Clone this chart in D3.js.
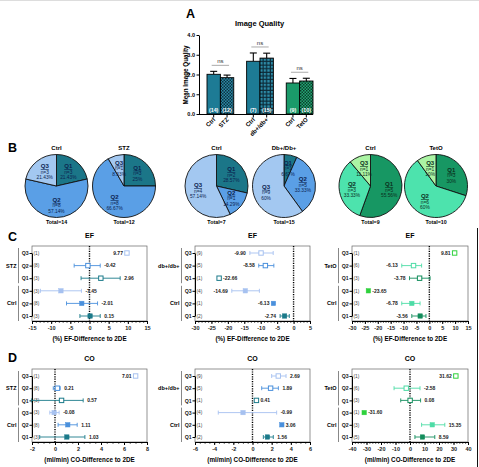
<!DOCTYPE html>
<html>
<head>
<meta charset="utf-8">
<script src="https://cdn.jsdelivr.net/npm/d3@7"></script>
<style>
body { margin: 0; background: #fff; }
svg { display: block; font-family: "Liberation Sans", Arial, sans-serif; }
</style>
</head>
<body>
<div id="chart"></div>
<script>
// ---- A: image quality bars
const barGroups = ["stz", "db", "teto"];
const barLabels = ["Ctrl", "STZ", "Ctrl", "db+/db+", "Ctrl", "TetO"];
const barMeans = [2.01, 1.84, 2.67, 2.83, 1.57, 1.67];
const barErr = [0.15, 0.13, 0.42, 0.25, 0.23, 0.14];
const barN = [14, 12, 7, 15, 9, 10];
const yTicksA = [0, 1, 2, 3, 4];

// ---- B: quartile pies (Q1, Q2, Q3 counts)
const pieTitles = ["Ctrl", "STZ", "Ctrl", "Db+/Db+", "Ctrl", "TetO"];
const pieCounts = [[3, 8, 3], [3, 8, 1], [2, 1, 4], [1, 5, 9], [5, 3, 1], [3, 6, 1]];
const quartiles = ["Q1", "Q2", "Q3"];

// ---- C / D: rows top to bottom = treatment Q3,Q2,Q1 then Ctrl Q3,Q2,Q1
const rowQ = ["Q3", "Q2", "Q1", "Q3", "Q2", "Q1"];

const efStzMean = [9.77, -0.42, 2.96, -7.45, -2.01, 0.15];
const efStzLo   = [NaN, -4.0, -2.2, -12.8, -6.0, -2.5];
const efStzHi   = [NaN, 2.8, 8.0, -2.1, 2.1, 2.8];

const efDbMean = [-9.90, -8.58, -22.66, -14.69, -6.13, -2.74];
const efDbLo   = [-13.3, -10.6, NaN, -18.8, NaN, -4.1];
const efDbHi   = [-6.2, -6.0, NaN, -10.4, NaN, -1.3];

const efTetMean = [9.81, -6.13, -3.78, -23.65, -6.78, -3.56];
const efTetLo   = [NaN, -10.7, -7.7, NaN, -10.7, -6.8];
const efTetHi   = [NaN, -3.0, 0.3, NaN, -3.6, -1.3];

const coStzMean = [7.01, 0.21, 0.57, -0.08, 1.11, 1.03];
const coStzLo   = [NaN, -0.15, -2.05, -0.45, 0.27, -1.33];
const coStzHi   = [NaN, 0.45, 2.45, 0.36, 1.93, 2.6];

const coDbMean = [2.69, 1.89, 0.41, -0.99, 3.06, 1.56];
const coDbLo   = [2.0, 0.96, NaN, -3.57, NaN, 1.13];
const coDbHi   = [3.5, 2.7, NaN, 2.52, NaN, 2.17];

const coTetMean = [31.62, -2.58, 0.08, -31.60, 15.35, 8.59];
const coTetLo   = [NaN, -11.0, -6.4, NaN, 8.0, 3.4];
const coTetHi   = [NaN, 6.9, 7.3, NaN, 24.0, 17.1];


const W = 479, H = 467;
const svg = d3.select("#chart").append("svg")
    .attr("width", W)
    .attr("height", H);

const blues  = ["#1b7688", "#5a9fe6", "#a3c8f1"];
const greens = ["#179763", "#4de3ad", "#abf4a4"];
const dotBlues  = ["#1b7a8a", "#4a90dc", "#a6c1f0"];
const dotGreens = ["#138d5c", "#4ddca6", "#2fd13c"];

// patterns for the treatment bars
const defs = svg.append("defs");
function checker(id, light, dark, s) {
    const p = defs.append("pattern").attr("id", id)
        .attr("width", s).attr("height", s).attr("patternUnits", "userSpaceOnUse");
    p.append("rect").attr("width", s).attr("height", s).attr("fill", light);
    p.append("rect").attr("width", s / 2).attr("height", s / 2).attr("fill", dark);
    p.append("rect").attr("x", s / 2).attr("y", s / 2).attr("width", s / 2).attr("height", s / 2).attr("fill", dark);
}
checker("chkBlue", "#2b8ba6", "#0c3142", 3);
checker("chkGreen", "#22a874", "#0c3d2b", 3);
const gp = defs.append("pattern").attr("id", "gridBlue")
    .attr("width", 3.6).attr("height", 3.6).attr("patternUnits", "userSpaceOnUse");
gp.append("rect").attr("width", 3.6).attr("height", 3.6).attr("fill", "#0d2a38");
gp.append("rect").attr("x", 0.9).attr("y", 0.9).attr("width", 2.4).attr("height", 2.4).attr("fill", "#2d8ca8");

const barFills = ["#1d7b95", "url(#chkBlue)", "#1d7b95", "url(#gridBlue)", "#1a9a6a", "url(#chkGreen)"];

// faint border on top, frame line at right
svg.append("line").attr("x1", 0).attr("x2", W).attr("y1", 0.5).attr("y2", 0.5).attr("stroke", "#ddd");
svg.append("line").attr("x1", 477.5).attr("x2", 477.5).attr("y1", 228).attr("y2", H).attr("stroke", "#111").attr("stroke-width", 1);

function letter(t, x, y) {
    svg.append("text").attr("x", x).attr("y", y).attr("font-size", 12.5).attr("font-weight", "bold").text(t);
}
letter("A", 186, 18);
letter("B", 8, 152);
letter("C", 8, 241);
letter("D", 8, 362);


// ================= A
(function barChart() {
    const g = svg.append("g");
    const y = d3.scaleLinear().domain([0, 4]).range([114, 35]);
    const x = d3.scaleBand().domain(barGroups).range([207, 313]).paddingInner(0.325);
    const xs = d3.scaleBand().domain([0, 1]).range([0, x.bandwidth()]);
    const bx = i => x(barGroups[Math.floor(i / 2)]) + xs(i % 2);
    const bw = xs.bandwidth();

    g.append("text").attr("x", 259.5).attr("y", 26).attr("text-anchor", "middle")
        .attr("font-size", 7.5).attr("font-weight", "bold").text("Image Quality");

    const yAx = g.append("g").attr("transform", "translate(199,0)")
        .call(d3.axisLeft(y).tickValues(yTicksA).tickSize(2.5).tickSizeOuter(0).tickPadding(1.5));
    yAx.selectAll("text").attr("font-size", 5.5).attr("font-weight", "bold");
    yAx.select(".domain").attr("stroke-width", 1);

    g.append("text").attr("transform", "translate(188,75) rotate(-90)").attr("text-anchor", "middle")
        .attr("font-size", 6.3).attr("font-weight", "bold").text("Mean Image Quality");

    // error bars (upper only)
    barMeans.forEach((m, i) => {
        const cx = bx(i) + bw / 2;
        g.append("line").attr("x1", cx).attr("x2", cx).attr("y1", y(m)).attr("y2", y(m + barErr[i]))
            .attr("stroke", "#000").attr("stroke-width", 1.1);
        g.append("line").attr("x1", cx - 3.5).attr("x2", cx + 3.5).attr("y1", y(m + barErr[i])).attr("y2", y(m + barErr[i]))
            .attr("stroke", "#000").attr("stroke-width", 1.1);
    });

    g.selectAll("rect.bar").data(barMeans).join("rect").attr("class", "bar")
        .attr("x", (d, i) => bx(i)).attr("width", bw)
        .attr("y", d => y(d)).attr("height", d => y(0) - y(d))
        .attr("fill", (d, i) => barFills[i]).attr("stroke", "#000").attr("stroke-width", 0.9);

    g.selectAll("text.n").data(barN).join("text").attr("class", "n")
        .attr("x", (d, i) => bx(i) + bw / 2).attr("y", 111.5).attr("text-anchor", "middle")
        .attr("font-size", 5.3).attr("font-weight", "bold").attr("fill", "#fff").text(d => `(${d})`);

    // x axis
    g.append("line").attr("x1", 199).attr("x2", 313).attr("y1", 114.5).attr("y2", 114.5).attr("stroke", "#000").attr("stroke-width", 1);
    barLabels.forEach((t, i) => {
        const cx = bx(i) + bw / 2;
        g.append("line").attr("x1", cx).attr("x2", cx).attr("y1", 114.5).attr("y2", 117.5).attr("stroke", "#000");
        g.append("text").attr("transform", `translate(${cx + 2},${120}) rotate(-45)`).attr("text-anchor", "end")
            .attr("font-size", 6).attr("font-weight", "bold").text(t);
    });

    // ns brackets
    barGroups.forEach((grp, k) => {
        const top = Math.max(barMeans[2 * k] + barErr[2 * k], barMeans[2 * k + 1] + barErr[2 * k + 1]);
        const ly = y(top) - 6;
        const x1 = bx(2 * k) + bw / 2 - 2, x2 = bx(2 * k + 1) + bw / 2 + 2;
        g.append("line").attr("x1", x1).attr("x2", x2).attr("y1", ly).attr("y2", ly).attr("stroke", "#aaa").attr("stroke-width", 1);
        g.append("text").attr("x", (x1 + x2) / 2).attr("y", ly - 2).attr("text-anchor", "middle")
            .attr("font-size", 6).attr("fill", "#333").text("ns");
    });
})();


// ================= B
const pieCx = [56.5, 124, 216.5, 284, 370.5, 436];
const R = 31.5, pieCy = 186;
const pie = d3.pie().sort(null).value(d => d);
const arc = d3.arc().innerRadius(0).outerRadius(R);
const labelArc = d3.arc().innerRadius(R * 0.6).outerRadius(R * 0.6);

function pct(c, tot) {
    return (c / tot * 100).toFixed(2).replace(/\.00$/, "") + "%";
}

pieCounts.forEach((counts, k) => {
    const tot = d3.sum(counts);
    const cols = k < 4 ? blues : greens;
    const txt = k < 4 ? "#0b2350" : "#0b2e1d";
    const g = svg.append("g").attr("transform", `translate(${pieCx[k]},${pieCy})`);
    const arcs = pie(counts);
    g.selectAll("path").data(arcs).join("path")
        .attr("d", arc).attr("fill", (d, i) => cols[i]).attr("stroke", "#111").attr("stroke-width", 0.9);
    arcs.forEach((a, i) => {
        const [lx, ly] = labelArc.centroid(a);
        g.append("text").attr("x", lx).attr("y", ly - 3).attr("text-anchor", "middle")
            .attr("font-size", 6).attr("font-weight", "bold").attr("text-decoration", "underline")
            .attr("fill", txt).text(quartiles[i]);
        g.append("text").attr("x", lx).attr("y", ly + 2.5).attr("text-anchor", "middle")
            .attr("font-size", 4.8).attr("fill", txt).text("n=" + counts[i]);
        g.append("text").attr("x", lx).attr("y", ly + 8).attr("text-anchor", "middle")
            .attr("font-size", 4.8).attr("fill", txt).text(pct(counts[i], tot));
    });
    svg.append("text").attr("x", pieCx[k]).attr("y", 150).attr("text-anchor", "middle")
        .attr("font-size", 6).attr("font-weight", "bold").text(pieTitles[k]);
    svg.append("text").attr("x", pieCx[k]).attr("y", 224).attr("text-anchor", "middle")
        .attr("font-size", 5.3).attr("font-weight", "bold").text("Total=" + tot);
});


// ================= C / D
function forest(p) {
    const g = svg.append("g");
    const x = d3.scaleLinear().domain(p.domain).range([p.x0, p.x1]);
    const y = d3.scalePoint().domain(d3.range(6)).range([p.y0 + 7, p.y1 - 5]);
    const cols = p.green ? dotGreens : dotBlues;
    const qIdx = q => quartiles.indexOf(q);

    g.append("text").attr("x", (p.x0 + p.x1) / 2).attr("y", p.y0 - 8).attr("text-anchor", "middle")
        .attr("font-size", 7).attr("font-weight", "bold").text(p.title);

    g.append("rect").attr("x", p.x0).attr("y", p.y0).attr("width", p.x1 - p.x0).attr("height", p.y1 - p.y0)
        .attr("fill", "none").attr("stroke", "#666").attr("stroke-width", 0.7);

    const minorAx = g.append("g").attr("transform", `translate(0,${p.y1})`)
        .call(d3.axisBottom(x).tickValues(d3.range(p.domain[0], p.domain[1] + 1e-9, p.minor))
            .tickSize(1.8).tickSizeOuter(0).tickFormat(""));
    minorAx.select(".domain").remove();
    minorAx.selectAll("line").attr("stroke-width", 0.7);

    const ax = g.append("g").attr("transform", `translate(0,${p.y1})`)
        .call(d3.axisBottom(x).tickValues(d3.range(p.domain[0], p.domain[1] + 1e-9, p.major))
            .tickSize(3).tickSizeOuter(0).tickPadding(2).tickFormat(d => String(d)));
    ax.select(".domain").attr("stroke-width", 1);
    ax.selectAll("text").attr("font-size", 5.5).attr("font-weight", "bold").attr("fill", "#222");

    const yAx = g.append("g").attr("transform", `translate(${p.x0},0)`)
        .call(d3.axisLeft(y).tickSize(2.5).tickSizeOuter(0).tickPadding(0.8).tickFormat(i => rowQ[i]));
    yAx.select(".domain").attr("stroke-width", 1);
    yAx.selectAll("text").attr("font-size", 5.2).attr("font-weight", "bold").attr("fill", "#222");

    g.append("text").attr("x", (p.x0 + p.x1) / 2).attr("y", p.y1 + 20).attr("text-anchor", "middle")
        .attr("font-size", 6.3).attr("font-weight", "bold").text(p.xlabel);

    // group brackets
    const bxl = p.x0 - 13.5;
    [[0, 2, p.group], [3, 5, "Ctrl"]].forEach(([a, b, t]) => {
        g.append("line").attr("x1", bxl).attr("x2", bxl).attr("y1", y(a) - 5).attr("y2", y(b) + 5)
            .attr("stroke", "#888").attr("stroke-width", 1);
        g.append("text").attr("x", bxl - 2).attr("y", y((a + b) / 2 | 0) + 2).attr("text-anchor", "end")
            .attr("font-size", 5.5).attr("font-weight", "bold").text(t);
    });

    // n per row
    const nRows = pieCounts[p.trt].slice().reverse().concat(pieCounts[p.ctrl].slice().reverse());
    nRows.forEach((n, i) => {
        g.append("text").attr("x", p.x0 + 1.5).attr("y", y(i) + 1.8)
            .attr("font-size", 4.8).attr("fill", "#444").text(`(${n})`);
    });

    // zero line
    g.append("line").attr("x1", x(0)).attr("x2", x(0)).attr("y1", p.y0).attr("y2", p.y1)
        .attr("stroke", "#000").attr("stroke-width", 1.4).attr("stroke-dasharray", "1.2,1.2");

    p.mean.forEach((m, i) => {
        const c = cols[qIdx(rowQ[i])];
        const cy = y(i);
        const filled = i >= 3;
        if (!isNaN(p.lo[i])) {
            g.append("line").attr("x1", x(p.lo[i])).attr("x2", x(p.hi[i])).attr("y1", cy).attr("y2", cy)
                .attr("stroke", c).attr("stroke-width", 0.9);
            [p.lo[i], p.hi[i]].forEach(v => {
                g.append("line").attr("x1", x(v)).attr("x2", x(v)).attr("y1", cy - 2).attr("y2", cy + 2)
                    .attr("stroke", c).attr("stroke-width", 0.9);
            });
        }
        const s = 4.4;
        g.append("rect").attr("x", x(m) - s / 2).attr("y", cy - s / 2).attr("width", s).attr("height", s)
            .attr("fill", filled ? c : "#fff").attr("stroke", c).attr("stroke-width", filled ? 0.5 : 1);

        const left = p.side[i] === "L";
        const lo = isNaN(p.lo[i]) ? m : Math.min(m, p.lo[i]);
        const hi = isNaN(p.hi[i]) ? m : Math.max(m, p.hi[i]);
        g.append("text").attr("x", left ? x(lo) - 4 : x(hi) + 4).attr("y", cy + 1.8)
            .attr("text-anchor", left ? "end" : "start")
            .attr("font-size", 5).attr("font-weight", "bold").attr("fill", "#222")
            .text(m.toFixed(2));
    });
}

const colX = [[32, 147], [195, 310], [352, 468]];
const efTop = 246, efBot = 321, coTop = 369, coBot = 442;

forest({ title: "EF", xlabel: "(%) EF-Difference to 2DE", group: "STZ", trt: 1, ctrl: 0,
    x0: colX[0][0], x1: colX[0][1], y0: efTop, y1: efBot, domain: [-15, 15], major: 5, minor: 1,
    mean: efStzMean, lo: efStzLo, hi: efStzHi, side: ["L", "R", "R", "R", "R", "R"] });
forest({ title: "EF", xlabel: "(%) EF-Difference to 2DE", group: "db+/db+", trt: 3, ctrl: 2,
    x0: colX[1][0], x1: colX[1][1], y0: efTop, y1: efBot, domain: [-30, 5], major: 5, minor: 1,
    mean: efDbMean, lo: efDbLo, hi: efDbHi, side: ["L", "L", "R", "L", "L", "L"] });
forest({ title: "EF", xlabel: "(%) EF-Difference to 2DE", group: "TetO", trt: 5, ctrl: 4, green: true,
    x0: colX[2][0], x1: colX[2][1], y0: efTop, y1: efBot, domain: [-30, 15], major: 5, minor: 1,
    mean: efTetMean, lo: efTetLo, hi: efTetHi, side: ["L", "L", "L", "R", "L", "L"] });

forest({ title: "CO", xlabel: "(ml/min) CO-Difference to 2DE", group: "STZ", trt: 1, ctrl: 0,
    x0: colX[0][0], x1: colX[0][1], y0: coTop, y1: coBot, domain: [-2, 8], major: 2, minor: 0.5,
    mean: coStzMean, lo: coStzLo, hi: coStzHi, side: ["L", "R", "R", "R", "R", "R"] });
forest({ title: "CO", xlabel: "(ml/min) CO-Difference to 2DE", group: "db+/db+", trt: 3, ctrl: 2,
    x0: colX[1][0], x1: colX[1][1], y0: coTop, y1: coBot, domain: [-6, 6], major: 2, minor: 0.5,
    mean: coDbMean, lo: coDbLo, hi: coDbHi, side: ["R", "R", "R", "R", "R", "R"] });
forest({ title: "CO", xlabel: "(ml/min) CO-Difference to 2DE", group: "TetO", trt: 5, ctrl: 4, green: true,
    x0: colX[2][0], x1: colX[2][1], y0: coTop, y1: coBot, domain: [-40, 40], major: 10, minor: 2,
    mean: coTetMean, lo: coTetLo, hi: coTetHi, side: ["L", "R", "R", "R", "R", "R"] });
</script>
</body>
</html>
